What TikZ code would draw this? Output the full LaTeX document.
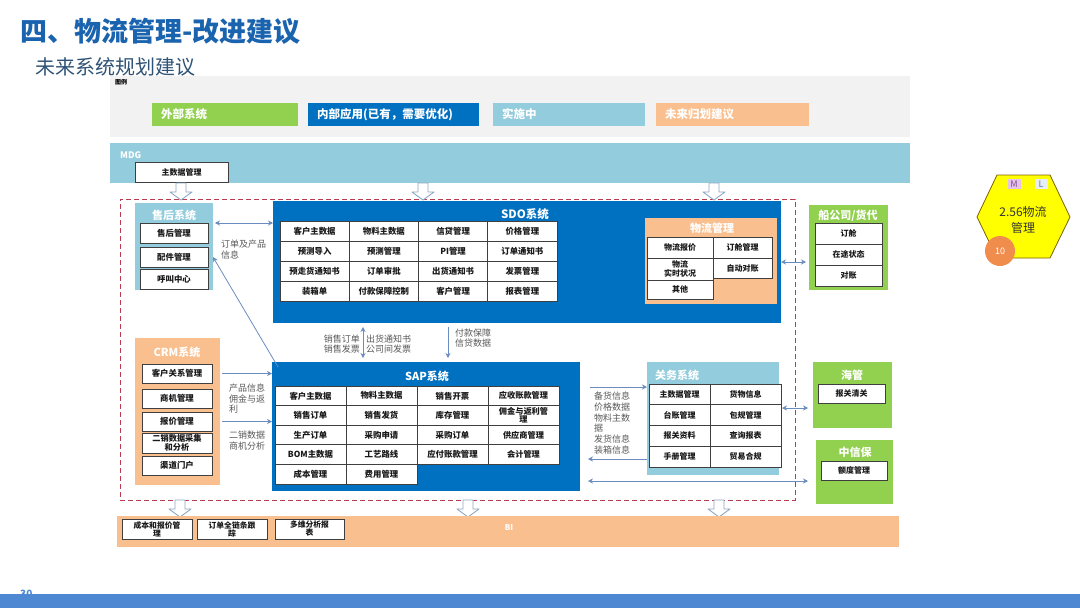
\documentclass[tikz,border=0pt]{standalone}
\usepackage{fontspec}
\setmainfont{Noto Sans CJK SC}
\usetikzlibrary{arrows.meta}
\definecolor{cGreen}{HTML}{92D050}
\definecolor{cBlue}{HTML}{0070C0}
\definecolor{cLBlue}{HTML}{93CDDD}
\definecolor{cOrange}{HTML}{F9BF8F}
\definecolor{cLegend}{HTML}{F2F2F2}
\definecolor{cRed}{HTML}{B83C4E}
\definecolor{cArrow}{HTML}{6B8CC0}
\definecolor{cBorder}{HTML}{3F3F3F}
\definecolor{cTitle}{HTML}{1A63AE}
\definecolor{cSub}{HTML}{2F5376}
\definecolor{cLabel}{HTML}{595959}
\definecolor{cHollow}{HTML}{8FA6C2}
\definecolor{cBand}{HTML}{4F88D2}
\definecolor{cHexBorder}{HTML}{7F6000}
\definecolor{cHex}{HTML}{FFFF00}
\definecolor{cCircle}{HTML}{F08C4C}
\definecolor{cM}{HTML}{E4C4E8}
\definecolor{cMtext}{HTML}{8A4A9A}
\definecolor{cL}{HTML}{E8EEF6}
\definecolor{cLtext}{HTML}{5A7AA8}
\begin{document}
\begin{tikzpicture}[x=1pt,y=-1pt,
  >={Stealth[length=5pt,width=5pt]},
  blk/.style 2 args={minimum width=#1,minimum height=#2,anchor=north west,inner sep=0pt,outer sep=0pt},
  cell/.style={draw=cBorder,fill=white,line width=0.7pt,align=center,text=black!90,font=\fontsize{8.4}{9}\selectfont\bfseries},
  smallcell/.style={cell,font=\fontsize{8}{8.6}\selectfont\bfseries},
  gtitle/.style={text=white,inner sep=0pt,font=\fontsize{11}{12}\selectfont\bfseries},
  lab/.style={text=cLabel,inner sep=0pt,align=left,font=\fontsize{9}{10.5}\selectfont},
  conn/.style={draw=cArrow,line width=0.8pt},
  legtxt/.style={text=white,inner sep=0pt,anchor=west,font=\fontsize{11.5}{12}\selectfont\bfseries},
  hollowdown/.pic={\path[draw=cHollow,fill=white,line width=0.9pt,line join=round] (-5,0) -- (5,0) -- (5,9) -- (11,9) -- (0,17) -- (-11,9) -- (-5,9) -- cycle;}
]
\fill[white] (0,0) rectangle (1080,608);
\useasboundingbox (0,0) rectangle (1080,608);

% titles
\node[anchor=west,inner sep=0pt,text=cTitle,font=\fontsize{27}{29}\selectfont\bfseries] (title) at (20,31) {四、物流管理-改进建议};
\node[anchor=west,inner sep=0pt,text=cSub,font=\fontsize{20}{22}\selectfont] (subtitle) at (35,67) {未来系统规划建议};

% legend
\node[blk={800}{61},fill=cLegend] (legend) at (110,76) {};
\node[anchor=north west,inner sep=0pt,font=\fontsize{6}{7}\selectfont\bfseries] (legtitle) at (115,79) {图例};
\node[blk={146}{23},fill=cGreen] (lg1) at (152,103) {};
\node[legtxt] (lg1t) at ([xshift=9pt]lg1.west) {外部系统};
\node[blk={171}{23},fill=cBlue] (lg2) at (308,103) {};
\node[legtxt] (lg2t) at ([xshift=9pt]lg2.west) {内部应用(已有，需要优化)};
\node[blk={152}{23},fill=cLBlue] (lg3) at (493,103) {};
\node[legtxt] (lg3t) at ([xshift=9pt]lg3.west) {实施中};
\node[blk={153}{23},fill=cOrange] (lg4) at (656,103) {};
\node[legtxt] (lg4t) at ([xshift=9pt]lg4.west) {未来归划建议};

% MDG
\node[blk={800}{40},fill=cLBlue] (mdg) at (110,143) {};
\node[anchor=west,inner sep=0pt,text=white,font=\fontsize{9}{10}\selectfont\bfseries] (mdgt) at (120,155) {MDG};
\node[smallcell,blk={93}{20}] (mdm) at (135,162) {主数据管理};

% red dashed zone
\node[blk={675}{301},draw=cRed,line width=0.9pt,dash pattern=on 5pt off 3pt] (redzone) at (120,199) {};

% hollow arrows
\pic at (181,183) {hollowdown};
\pic at (423,183) {hollowdown};
\pic at (714,183) {hollowdown};
\pic at (180,500) {hollowdown};
\pic at (468,500) {hollowdown};
\pic at (719,500) {hollowdown};

% after-sales
\node[blk={78}{87},fill=cLBlue] (as) at (135,203) {};
\node[gtitle] (ast) at (174,215) {售后系统};
\node[cell,blk={68}{20}] (as1) at (140,223) {售后管理};
\node[cell,blk={68}{20}] (as2) at (140,247) {配件管理};
\node[cell,blk={68}{20}] (as3) at (140,269) {呼叫中心};

% SDO
\node[blk={508}{122},fill=cBlue] (sdo) at (273,201) {};
\node[gtitle,font=\fontsize{11.5}{12}\selectfont\bfseries] (sdot) at (525,214) {SDO系统};
\foreach \r/\pa/\pb/\pc/\pd in {0/客户主数据/物料主数据/信贷管理/价格管理,1/预测导入/预测管理/PI管理/订单通知书,2/预走货通知书/订单审批/出货通知书/发票管理,3/装箱单/付款保障控制/客户管理/报表管理}{
  \node[cell,blk={69.25}{20}] (sdo-\r-1) at (280,{221+20*\r}) {\pa};
  \node[cell,blk={69.25}{20}] (sdo-\r-2) at (349.25,{221+20*\r}) {\pb};
  \node[cell,blk={69.25}{20}] (sdo-\r-3) at (418.5,{221+20*\r}) {\pc};
  \node[cell,blk={69.25}{20}] (sdo-\r-4) at (487.75,{221+20*\r}) {\pd};
}

% logistics
\node[blk={132}{86},fill=cOrange] (wl) at (645,218) {};
\node[gtitle] (wlt) at (712,228) {物流管理};
\node[smallcell,blk={66}{21}] (wl1) at (647,237) {物流报价};
\node[smallcell,blk={59}{21}] (wl2) at (713,237) {订舱管理};
\node[smallcell,blk={66}{22},font=\fontsize{8}{8.4}\selectfont\bfseries] (wl3) at (647,258) {物流\\实时状况};
\node[smallcell,blk={59}{20}] (wl4) at (713,258) {自动对账};
\node[smallcell,blk={66}{19}] (wl5) at (647,280) {其他};

% shipping company
\node[blk={79}{85},fill=cGreen] (ship) at (809,205) {};
\node[gtitle] (shipt) at (848,216) {船公司/货代};
\node[smallcell,blk={67}{21}] (ship1) at (815,223) {订舱};
\node[smallcell,blk={67}{21}] (ship2) at (815,244) {在途状态};
\node[smallcell,blk={67}{21}] (ship3) at (815,265) {对账};

% CRM
\node[blk={85}{147},fill=cOrange] (crm) at (135,338) {};
\node[gtitle] (crmt) at (177,352) {CRM系统};
\node[cell,blk={70}{19}] (crm1) at (142,364) {客户关系管理};
\node[cell,blk={70}{19}] (crm2) at (142,389) {商机管理};
\node[cell,blk={70}{19}] (crm3) at (142,412) {报价管理};
\node[cell,blk={70}{20},font=\fontsize{8.2}{8.6}\selectfont\bfseries] (crm4) at (142,433) {二销数据采集\\和分析};
\node[cell,blk={70}{19}] (crm5) at (142,456) {渠道门户};

% SAP
\node[blk={308}{129},fill=cBlue] (sap) at (272,362) {};
\node[gtitle,font=\fontsize{11}{12}\selectfont\bfseries] (sapt) at (427,376) {SAP系统};
\foreach \r/\pa/\pb/\pc/\pd in {0/客户主数据/物料主数据/销售开票/应收账款管理,1/销售订单/销售发货/库存管理/佣金与返利管\\理,2/生产订单/采购申请/采购订单/供应商管理,3/BOM主数据/工艺路线/应付账款管理/会计管理}{
  \node[cell,blk={71}{19.6}] (sap-\r-1) at (275,{386+19.6*\r}) {\pa};
  \node[cell,blk={71}{19.6}] (sap-\r-2) at (346,{386+19.6*\r}) {\pb};
  \node[cell,blk={71}{19.6}] (sap-\r-3) at (417,{386+19.6*\r}) {\pc};
  \node[cell,blk={71}{19.6},font=\fontsize{8.2}{8.4}\selectfont\bfseries] (sap-\r-4) at (488,{386+19.6*\r}) {\pd};
}
\node[cell,blk={71}{19.6}] (sap-4-1) at (275,464.4) {成本管理};
\node[cell,blk={71}{19.6}] (sap-4-2) at (346,464.4) {费用管理};

% customs
\node[blk={132}{113},fill=cLBlue] (gw) at (647,362) {};
\node[gtitle,anchor=west] (gwt) at (655,375) {关务系统};
\foreach \r/\pa/\pb in {0/主数据管理/货物信息,1/台账管理/包规管理,2/报关资料/查询报表,3/手册管理/贸易合规}{
  \node[smallcell,blk={61}{20.75}] (gw-\r-1) at (649,{384+20.75*\r}) {\pa};
  \node[smallcell,blk={71}{20.75}] (gw-\r-2) at (710,{384+20.75*\r}) {\pb};
}

% Haiguan
\node[blk={79}{66},fill=cGreen] (hg) at (813,362) {};
\node[gtitle] (hgt) at (852,375) {海管};
\node[smallcell,blk={67}{19}] (hg1) at (818,384) {报关清关};

% Sinosure
\node[blk={77}{64},fill=cGreen] (zxb) at (816,440) {};
\node[gtitle] (zxbt) at (855,452) {中信保};
\node[smallcell,blk={66}{19}] (zxb1) at (821,461) {额度管理};

% BI
\node[blk={782}{31},fill=cOrange] (bi) at (117,516) {};
\node[inner sep=0pt,text=white,font=\fontsize{8}{9}\selectfont\bfseries] (bit) at (509,528) {BI};
\node[cell,blk={70}{20},font=\fontsize{7.8}{8}\selectfont\bfseries] (bi1) at (122,519) {成本和报价管\\理};
\node[cell,blk={70}{20},font=\fontsize{7.8}{8}\selectfont\bfseries] (bi2) at (197,519) {订单全链条跟\\踪};
\node[cell,blk={69}{20},font=\fontsize{7.8}{8}\selectfont\bfseries] (bi3) at (275,519) {多维分析报\\表};

% connectors
\draw[conn,<->,shorten <=2pt] (as.east |- as1.north) -- (sdo.west |- as1.north);
\node[lab,anchor=north west] (lab-as) at (221,240) {订单及产品\\信息};
\draw[conn,->] ([xshift=6pt,yshift=-5pt]sap.north west) -- (as.east |- as2);

\draw[conn,->,shorten <=2pt] (crm.east |- crm1) -- (sap.west |- crm1);
\draw[conn,->,shorten <=2pt] (crm.east |- crm3) -- (sap.west |- crm3);
\node[lab,anchor=north west] (lab-crm1) at (229,384) {产品信息\\佣金与返\\利};
\node[lab,anchor=north west] (lab-crm2) at (229,431) {二销数据\\商机分析};

\coordinate (vA) at ([xshift=90pt]sdo.south west);
\coordinate (vB) at ([xshift=175pt]sdo.south west);
\draw[conn,<->,shorten <=4pt,shorten >=4pt] (vA) -- (vA |- sap.north);
\draw[conn,->,shorten <=4pt,shorten >=4pt] (vB) -- (vB |- sap.north);
\node[lab,anchor=east,align=right] (lab-v1) at (360,344) {销售订单\\销售发票};
\node[lab,anchor=west] (lab-v2) at (366,344) {出货通知书\\公司间发票};
\node[lab,anchor=west] (lab-v3) at (455,338) {付款保障\\信贷数据};

\coordinate (hA) at ([yshift=-25pt]sap.north east);
\coordinate (hB) at ([yshift=-97pt]sap.north east);
\coordinate (hC) at ([yshift=-119pt]sap.north east);
\draw[conn,->,shorten <=10pt] (hA) -- (hA -| gw.west);
\draw[conn,->,shorten >=8pt] (hB -| gw.west) -- (hB);
\draw[conn,<->,shorten <=8pt,shorten >=8pt] (hC) -- (hC -| zxb.west);
\node[lab,anchor=north west,font=\fontsize{9}{10.7}\selectfont] (lab-gw) at (594,392) {备货信息\\价格数据\\物料主数\\据\\发货信息\\装箱信息};

\coordinate (hD) at ([yshift=-46pt]gw.north east);
\draw[conn,<->,shorten <=3pt,shorten >=5pt] (hD) -- (hD -| hg.west);
\draw[conn,<->,shorten >=3pt] (sdo.east) -- (sdo.east -| ship.west);

% hexagon
\path[draw=cHexBorder,fill=cHex,line width=0.8pt] (997,175) -- (1050,175) -- (1070,217) -- (1050,258) -- (997,258) -- (977,217) -- cycle;
\node[align=center,inner sep=0pt,text=black!80,font=\fontsize{12}{15.5}\selectfont] (hex) at (1023,220) {2.56物流\\管理};
\node[inner sep=0pt,minimum width=13,minimum height=10,fill=cM,text=cMtext,font=\fontsize{9}{9}\selectfont] (tagm) at (1014,184) {M};
\node[inner sep=0pt,minimum width=13,minimum height=10,fill=cL,text=cLtext,font=\fontsize{9}{9}\selectfont] (tagl) at (1041,184) {L};
\node[circle,fill=cCircle,minimum size=30,inner sep=0pt,text=white,font=\fontsize{9}{9}\selectfont] (ten) at (1000,251) {10};

% bottom band
\node[anchor=west,inner sep=0pt,text=cBand,font=\fontsize{10}{10}\selectfont\bfseries] (pageno) at (20,594) {30};
\fill[cBand] (0,594) rectangle (1080,608);
\end{tikzpicture}
\end{document}
